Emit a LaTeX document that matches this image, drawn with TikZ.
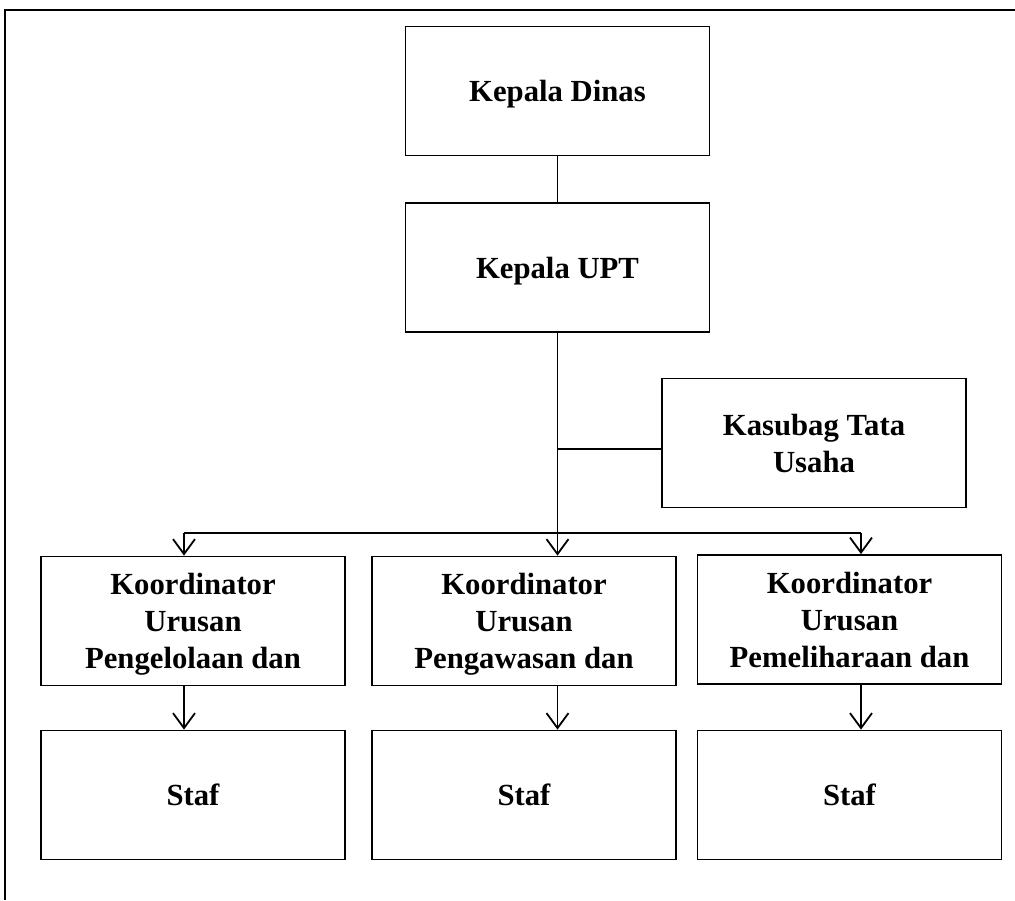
\documentclass[tikz,border=0pt]{standalone}
\usepackage{fontspec}
\setmainfont{Liberation Serif}
\usetikzlibrary{arrows.meta}
\tikzset{
  box/.style={draw, line width=1.8pt, minimum width=304pt, minimum height=129pt, inner sep=0pt, text depth=0pt, align=center, font=\fontsize{30.7}{37}\selectfont\bfseries},
  conn/.style={line width=1.8pt},
  arr/.style={line width=1.8pt, -{Straight Barb[length=15pt,width=22pt,line width=1.8pt]}}
}
\begin{document}
\begin{tikzpicture}[x=1pt,y=-1pt]
\useasboundingbox (0,0) rectangle (1015,900);
% outer frame (only top and left edges visible)
\coordinate (fbl) at (5,900);
\coordinate (ftl) at (5,10);
\coordinate (ftr) at (1015,10);
\draw[line width=1.8pt] (fbl) -- (ftl) -- (ftr);

\node[box] (kd) at (557.5,91) {Kepala Dinas};
\node[box] (kup) at (557.5,267.5) {Kepala UPT};
\node[box] (ksb) at (814,443) {Kasubag Tata\\Usaha};

\node[box] (k1) at (193,621) {Koordinator\\Urusan\\Pengelolaan dan};
\node[box] (k2) at (524,621) {Koordinator\\Urusan\\Pengawasan dan};
\node[box] (k3) at (849.5,619.5) {Koordinator\\Urusan\\Pemeliharaan dan};

\node[box] (s1) at (193,795) {Staf};
\node[box] (s2) at (524,795) {Staf};
\node[box] (s3) at (849.5,795) {Staf};

\coordinate (jct) at (557.5,449);
\coordinate (barL) at (184,533);
\coordinate (barM) at (557.5,533);
\coordinate (barR) at (861,533);

\draw[conn] (kd) -- (kup);
\draw[conn] (kup.south) -- (barM);
\draw[conn] (jct) -- (jct -| ksb.west);
\draw[conn] (barL) -- (barR);
\draw[arr] (barL) -- (barL |- k1.north);
\draw[arr] (barM) -- (barM |- k2.north);
\draw[arr] (barR) -- (barR |- k3.north);
\draw[arr] (barL |- k1.south) -- (barL |- s1.north);
\draw[arr] (barM |- k2.south) -- (barM |- s2.north);
\draw[arr] (barR |- k3.south) -- (barR |- s3.north);
\end{tikzpicture}
\end{document}
